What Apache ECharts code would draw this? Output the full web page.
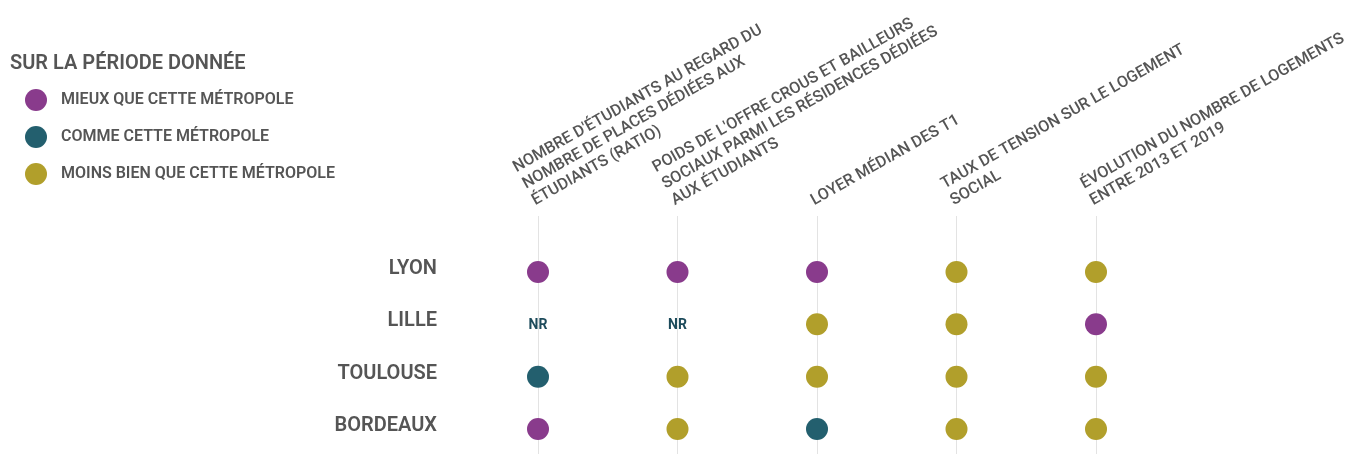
<!DOCTYPE html>
<html>
<head>
<meta charset="utf-8">
<script src="https://cdn.jsdelivr.net/npm/echarts@6/dist/echarts.min.js"></script>
<style>
html,body{margin:0;padding:0;background:#fff;}
#chart{width:1346px;height:454px;}
</style>
</head>
<body>
<div id="chart"></div>
<script>
const columns = [
  "NOMBRE D'ÉTUDIANTS AU REGARD DU\nNOMBRE DE PLACES DÉDIÉES AUX\nÉTUDIANTS (RATIO)",
  "POIDS DE L'OFFRE CROUS ET BAILLEURS\nSOCIAUX PARMI LES RÉSIDENCES DÉDIÉES\nAUX ÉTUDIANTS",
  "LOYER MÉDIAN DES T1",
  "TAUX DE TENSION SUR LE LOGEMENT\nSOCIAL",
  "ÉVOLUTION DU NOMBRE DE LOGEMENTS\nENTRE 2013 ET 2019"
];
const cities = ["LYON", "LILLE", "TOULOUSE", "BORDEAUX"];
const lyon = ["mieux", "mieux", "mieux", "moins", "moins"];
const lille = ["NR", "NR", "moins", "moins", "mieux"];
const toulouse = ["comme", "moins", "moins", "moins", "moins"];
const bordeaux = ["mieux", "moins", "comme", "moins", "moins"];
const statusKeys = ["mieux", "comme", "moins"];
const statusLabels = ["MIEUX QUE CETTE MÉTROPOLE", "COMME CETTE MÉTROPOLE", "MOINS BIEN QUE CETTE MÉTROPOLE"];
const statusColors = ["#893b8c", "#235f6e", "#b19f2b"];

const rows = [lyon, lille, toulouse, bordeaux];
function pointsFor(key) {
  const out = [];
  rows.forEach((row, r) => row.forEach((v, c) => { if (v === key) out.push([c, r]); }));
  return out;
}
const FONT = "Roboto, 'Noto Sans', sans-serif";
const TXT = "#555555";

const series = statusKeys.map((k, i) => ({
  name: statusLabels[i],
  type: "scatter",
  xAxisIndex: 1, yAxisIndex: 1,
  symbol: "circle",
  symbolSize: 22,
  itemStyle: { color: statusColors[i], opacity: 1 },
  emphasis: { disabled: true },
  data: pointsFor(k)
}));
series.push({
  name: "NR",
  type: "scatter",
  xAxisIndex: 1, yAxisIndex: 1,
  symbol: "circle",
  symbolSize: 2,
  itemStyle: { color: "#ffffff" },
  emphasis: { disabled: true },
  label: { show: true, position: "inside", formatter: "NR", color: "#1d4b5b",
           textBorderWidth: 0, opacity: 1,
           fontSize: 14, fontWeight: "bold", fontFamily: FONT, offset: [0, 1] },
  data: pointsFor("NR")
});

const G = { left: 538, right: 250, outerBoundsMode: "none", containLabel: false };
const chart = echarts.init(document.getElementById("chart"));
chart.setOption({
  animation: false,
  textStyle: { fontFamily: FONT },
  title: {
    text: "SUR LA PÉRIODE DONNÉE",
    left: 5, top: 49,
    textStyle: { fontSize: 20, fontWeight: 600, color: TXT, fontFamily: FONT }
  },
  legend: {
    orient: "vertical",
    left: 25, top: 89,
    itemWidth: 22, itemHeight: 22, itemGap: 15,
    icon: "circle",
    padding: 0,
    data: statusLabels,
    selectedMode: false,
    textStyle: { fontSize: 16, fontWeight: 600, color: TXT, fontFamily: FONT, padding: [0, 0, 0, 9] }
  },
  grid: [
    Object.assign({}, G, { top: 216, bottom: 0 }),
    Object.assign({}, G, { top: 272, bottom: 25 }),
    Object.assign({}, G, { top: 269, bottom: 28 })
  ],
  xAxis: [
    {
      gridIndex: 0, type: "category", position: "top", boundaryGap: false,
      data: columns,
      axisLine: { show: false }, axisTick: { show: false },
      splitLine: { show: true, interval: 0, lineStyle: { color: "#e3e3e3", width: 1 } },
      axisLabel: {
        interval: 0, rotate: 29.5, margin: 6,
        align: "left", verticalAlign: "bottom", hideOverlap: false,
        fontSize: 16, lineHeight: 19, fontWeight: 500, color: TXT, fontFamily: FONT
      }
    },
    { gridIndex: 1, type: "category", boundaryGap: false, show: false, data: columns },
    { gridIndex: 2, type: "category", boundaryGap: false, show: false, data: columns }
  ],
  yAxis: [
    { gridIndex: 0, type: "value", show: false, min: 0, max: 1 },
    { gridIndex: 1, type: "category", inverse: true, boundaryGap: false, show: false, data: cities },
    {
      gridIndex: 2, type: "category", inverse: true, boundaryGap: false,
      data: cities,
      axisLine: { show: false }, axisTick: { show: false }, splitLine: { show: false },
      axisLabel: { margin: 101, fontSize: 20, fontWeight: 600, color: TXT, fontFamily: FONT }
    }
  ],
  series: series
});
</script>
</body>
</html>
